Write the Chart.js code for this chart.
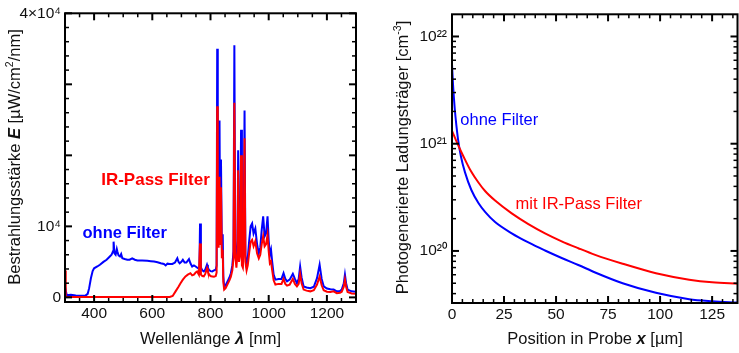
<!DOCTYPE html>
<html>
<head>
<meta charset="utf-8">
<script src="https://cdn.jsdelivr.net/npm/chart.js@4.4.1/dist/chart.umd.min.js"></script>
<style>
  html, body { margin: 0; padding: 0; background: #fff; }
  #wrap { position: relative; width: 739px; height: 353px; }
  #left { position: absolute; left: 0; top: 0; }
  #right { position: absolute; left: 372px; top: 0; }
</style>
</head>
<body>
<div id="wrap">
  <canvas id="left" width="372" height="353"></canvas>
  <canvas id="right" width="367" height="353"></canvas>
</div>
<script>
// Spectrum, left panel (wavelength nm / irradiance uW/cm2/nm)
const waveBlue = [300, 303, 306, 320, 337, 354, 371, 378, 383, 389, 395, 400, 411, 420, 432, 443, 454, 460, 465, 467, 470, 474, 478, 480, 484, 489, 493, 497, 505, 514, 522, 531, 540, 549, 565, 583, 595, 606, 618, 629, 640, 646, 652, 660, 669, 678, 686, 690, 694, 700, 705, 711, 717, 726, 731, 737, 743, 749, 757, 762, 764, 767, 772, 777, 782, 788, 791, 794, 800, 806, 812, 818, 821, 823, 825, 828, 831, 833, 836, 839, 842, 844, 847, 852, 858, 865, 870, 875, 879, 882, 885, 889, 893, 895, 898, 902, 905, 908, 911, 914, 917, 920, 924, 928, 933, 938, 943, 948, 954, 960, 966, 971, 976, 981, 986, 991, 996, 1000, 1004, 1008, 1012, 1017, 1023, 1034, 1044, 1051, 1057, 1063, 1072, 1079, 1083, 1090, 1097, 1103, 1108, 1113, 1120, 1130, 1143, 1155, 1166, 1175, 1182, 1189, 1200, 1212, 1223, 1234, 1245, 1251, 1258, 1262, 1266, 1271, 1285, 1300];
const irrBlue = [600, 900, 300, 380, 280, 240, 280, 500, 1300, 2700, 3700, 4100, 4350, 4600, 5000, 5300, 5750, 6000, 6500, 7850, 6200, 6000, 6800, 6450, 5900, 5750, 6100, 5500, 5400, 5300, 5300, 5500, 5300, 5200, 5200, 5150, 5100, 5050, 4950, 4800, 4700, 4500, 4750, 4700, 4700, 4900, 5500, 5000, 4800, 5000, 5300, 4900, 4900, 5400, 4800, 4350, 4500, 4350, 4100, 4300, 10400, 4200, 3800, 3650, 3900, 4600, 4200, 3900, 3700, 3650, 3800, 3900, 4500, 35000, 9000, 8000, 24900, 9000, 19400, 7000, 8900, 3000, 1500, 1700, 2200, 2800, 3400, 4500, 6500, 35500, 7000, 5000, 8000, 20700, 6000, 7000, 23600, 5500, 5000, 9000, 26300, 6000, 4500, 5500, 8000, 10000, 10400, 9000, 9700, 7500, 6200, 7000, 9500, 11400, 8600, 9000, 11400, 8000, 6000, 6700, 5000, 3200, 2500, 2600, 2600, 3400, 2600, 2250, 2500, 3000, 3300, 2600, 2000, 2600, 4350, 2800, 1550, 1400, 1300, 1500, 2700, 4600, 2600, 1550, 1250, 1150, 1100, 850, 900, 1100, 2000, 3200, 2000, 1100, 850, 800];

const waveRed = [300, 302, 303, 400, 500, 600, 660, 670, 680, 690, 697, 705, 714, 722, 731, 737, 743, 749, 754, 760, 764, 767, 772, 777, 782, 788, 791, 794, 800, 806, 812, 818, 821, 823, 825, 828, 831, 833, 836, 839, 842, 844, 847, 852, 858, 865, 870, 875, 879, 882, 885, 889, 893, 895, 898, 902, 905, 908, 911, 914, 917, 920, 924, 928, 933, 938, 943, 948, 954, 960, 966, 971, 976, 981, 986, 991, 996, 1000, 1004, 1008, 1012, 1017, 1023, 1034, 1044, 1051, 1057, 1063, 1072, 1079, 1083, 1090, 1097, 1103, 1108, 1113, 1120, 1130, 1143, 1155, 1166, 1175, 1182, 1189, 1200, 1212, 1223, 1234, 1245, 1251, 1258, 1262, 1266, 1271, 1285, 1300];
const irrRed = [3800, 400, 50, 50, 50, 50, 50, 200, 850, 1500, 2000, 2500, 2950, 3200, 3400, 3100, 3200, 3500, 3650, 3200, 7600, 3200, 3000, 2950, 3300, 4100, 3600, 3300, 3000, 2950, 2900, 3000, 3500, 26900, 8000, 7000, 17000, 7500, 15500, 5500, 6700, 2200, 1100, 1300, 1800, 2400, 2900, 3800, 5500, 27400, 6000, 4200, 6500, 17900, 5000, 6000, 20000, 4500, 4200, 7000, 22400, 5000, 3800, 4500, 6300, 7800, 8100, 7200, 7900, 6200, 5500, 6000, 7500, 8600, 7200, 7500, 8800, 6500, 4800, 5050, 3800, 2400, 1800, 1900, 1900, 2600, 1900, 1650, 1800, 2300, 2600, 1900, 1550, 1900, 3300, 2000, 1100, 950, 850, 1000, 1800, 2950, 1700, 1000, 800, 750, 850, 600, 650, 800, 1500, 2500, 1500, 750, 550, 500];

// Carrier density, right panel (position um / cm^-3)
const posBlue = [0, 0.5, 1.3, 2.1, 2.9, 4.3, 6.25, 9.3, 12.7, 16, 20.7, 28.7, 36.7, 44.7, 52.7, 60.7, 68.8, 82, 98, 114, 125, 137.5];
const carrBlue = [5.5e21, 3.55e21, 2.14e21, 1.48e21, 1.1e21, 7.6e20, 5.4e20, 3.7e20, 2.8e20, 2.3e20, 1.86e20, 1.46e20, 1.2e20, 1.01e20, 8.6e19, 7.4e19, 6.3e19, 5.0e19, 4.07e19, 3.55e19, 3.4e19, 3.3e19];
const posRed = [0, 2, 4.3, 6.25, 9, 12.7, 16, 20.7, 28.7, 36.7, 44.7, 52.7, 60.7, 68.8, 82, 98, 114, 125, 137.5];
const carrRed = [1.32e21, 1.07e21, 8.5e20, 7.1e20, 5.6e20, 4.35e20, 3.6e20, 2.95e20, 2.24e20, 1.78e20, 1.46e20, 1.23e20, 1.06e20, 9.2e19, 7.6e19, 6.2e19, 5.4e19, 5.1e19, 4.95e19];

// tick labels
const waveTicks = [400, 600, 800, 1000, 1200];
const irrTicks = [0, 10000, 40000];
const irrTickLabels = ['0', '10\u2074', '4\u00d710\u2074'];
const posTicks = [0, 25, 50, 75, 100, 125];
const carrTicks = [1e20, 1e21, 1e22];
const carrTickLabels = ['10\u00b2\u2070', '10\u00b2\u00b9', '10\u00b2\u00b2'];

const BLUE = '#0000ff';
const RED = '#ff0000';
const FAM = '"Liberation Sans", Arial, Helvetica, sans-serif';

Chart.defaults.font.family = FAM;
Chart.defaults.color = '#111';

function pts(xs, ys) {
  return xs.map((x, i) => ({ x, y: ys[i] }));
}

function range(a, b, step) {
  const out = [];
  for (let v = a; v <= b + 1e-9; v += step) out.push(Math.round(v * 1000) / 1000);
  return out;
}

// text made of several font runs, centred on (cx, cy)
function drawRich(ctx, parts, cx, cy, angle) {
  ctx.save();
  ctx.translate(cx, cy);
  ctx.rotate(angle || 0);
  ctx.textBaseline = 'middle';
  ctx.textAlign = 'left';
  let total = 0;
  parts.forEach(p => {
    ctx.font = p.font;
    p.w = ctx.measureText(p.text).width;
    total += p.w;
  });
  let x = -total / 2;
  parts.forEach(p => {
    ctx.font = p.font;
    ctx.fillStyle = '#111';
    ctx.fillText(p.text, x, p.dy || 0);
    x += p.w;
  });
  ctx.restore();
}

// inward ticks on all four sides + frame
const frameTicks = {
  id: 'frameTicks',
  afterDatasetsDraw(chart, args, o) {
    const { ctx, chartArea: a, scales } = chart;
    const xs = scales.x, ys = scales.y;
    ctx.save();
    ctx.strokeStyle = '#000';
    ctx.lineCap = 'butt';
    const seg = (x1, y1, x2, y2) => {
      ctx.beginPath(); ctx.moveTo(x1, y1); ctx.lineTo(x2, y2); ctx.stroke();
    };
    o.xTicks.forEach(t => {
      const px = xs.getPixelForValue(t.v);
      if (px < a.left - 0.5 || px > a.right + 0.5) return;
      ctx.lineWidth = t.major ? 2 : 1.5;
      const len = t.major ? 7 : 4;
      seg(px, a.bottom, px, a.bottom - len);
      seg(px, a.top, px, a.top + len);
    });
    o.yTicks.forEach(t => {
      const py = ys.getPixelForValue(t.v);
      if (py < a.top - 0.5 || py > a.bottom + 0.5) return;
      ctx.lineWidth = t.major ? 2 : 1.5;
      const len = t.major ? 7 : 4;
      seg(a.left, py, a.left + len, py);
      seg(a.right, py, a.right - len, py);
    });
    ctx.lineWidth = 2;
    ctx.strokeRect(a.left, a.top, a.right - a.left, a.bottom - a.top);
    ctx.restore();
  }
};

const labels = {
  id: 'labels',
  afterDraw(chart, args, o) {
    const { ctx, scales } = chart;
    ctx.save();
    o.notes.forEach(n => {
      ctx.font = n.font;
      ctx.fillStyle = n.color;
      ctx.textAlign = n.align;
      ctx.textBaseline = 'middle';
      ctx.fillText(n.text, scales.x.getPixelForValue(n.x), scales.y.getPixelForValue(n.y));
    });
    ctx.restore();
    o.titles.forEach(t => drawRich(ctx, t.parts, t.x, t.y, t.angle));
  }
};

const F = '16.5px ' + FAM;
const FBI = 'italic bold 16.5px ' + FAM;
const FSUP = '10.5px ' + FAM;

// ---------- left panel ----------
const leftXTicks = range(300, 1300, 50).map(v => ({ v, major: v % 200 === 0 }));
const leftYTicks = range(0, 40000, 2000).map(v => ({ v, major: v % 10000 === 0 }));

new Chart(document.getElementById('left'), {
  type: 'scatter',
  data: {
    datasets: [
      { data: pts(waveRed, irrRed), borderColor: RED, borderWidth: 2, showLine: true, pointRadius: 0, tension: 0 },
      { data: pts(waveBlue, irrBlue), borderColor: BLUE, borderWidth: 2, showLine: true, pointRadius: 0, tension: 0 }
    ]
  },
  options: {
    responsive: false,
    animation: false,
    layout: { padding: { top: 13, right: 16, left: 0, bottom: 0 } },
    plugins: {
      legend: { display: false },
      tooltip: { enabled: false },
      frameTicks: { xTicks: leftXTicks, yTicks: leftYTicks },
      labels: {
        notes: [
          { text: 'IR-Pass Filter', x: 611, y: 16500, color: RED, font: 'bold 17px ' + FAM, align: 'center' },
          { text: 'ohne Filter', x: 505, y: 9040, color: BLUE, font: 'bold 16.5px ' + FAM, align: 'center' }
        ],
        titles: [
          { x: 210.5, y: 339, angle: 0, parts: [
            { text: 'Wellenlänge ', font: F },
            { text: 'λ', font: FBI },
            { text: ' [nm]', font: F }
          ] },
          { x: 15, y: 157, angle: -Math.PI / 2, parts: [
            { text: 'Bestrahlungsstärke ', font: F },
            { text: 'E', font: FBI },
            { text: ' [µW/cm', font: F },
            { text: '2', font: FSUP, dy: -5 },
            { text: '/nm]', font: F }
          ] }
        ]
      }
    },
    scales: {
      x: {
        type: 'linear', min: 300, max: 1300,
        grid: { display: false, drawTicks: false },
        border: { display: false },
        afterFit: ax => { ax.height = 51; },
        afterBuildTicks: ax => { ax.ticks = waveTicks.map(v => ({ value: v })); },
        ticks: { padding: 2, font: { size: 15.5 }, maxRotation: 0, autoSkip: false, callback: v => String(v) }
      },
      y: {
        type: 'linear', min: -650, max: 40000,
        grid: { display: false, drawTicks: false },
        border: { display: false },
        afterFit: ax => { ax.width = 65; },
        afterBuildTicks: ax => { ax.ticks = irrTicks.map(v => ({ value: v })); },
        ticks: {
          padding: 4, font: { size: 15.5 }, autoSkip: false,
          callback: v => irrTickLabels[irrTicks.indexOf(v)]
        }
      }
    }
  },
  plugins: [frameTicks, labels]
});

// ---------- right panel ----------
const rightXTicks = range(0, 140, 5).map(v => ({ v, major: v % 25 === 0 }));
const rightYTicks = [];
[19, 20, 21, 22].forEach(e => {
  for (let m = 1; m <= 9; m++) rightYTicks.push({ v: m * Math.pow(10, e), major: m === 1 });
});

new Chart(document.getElementById('right'), {
  type: 'scatter',
  data: {
    datasets: [
      { data: pts(posRed, carrRed), borderColor: RED, borderWidth: 2, showLine: true, pointRadius: 0, cubicInterpolationMode: 'monotone' },
      { data: pts(posBlue, carrBlue), borderColor: BLUE, borderWidth: 2, showLine: true, pointRadius: 0, cubicInterpolationMode: 'monotone' }
    ]
  },
  options: {
    responsive: false,
    animation: false,
    layout: { padding: { top: 12, right: 1.5, left: 0, bottom: 0 } },
    plugins: {
      legend: { display: false },
      tooltip: { enabled: false },
      frameTicks: { xTicks: rightXTicks, yTicks: rightYTicks },
      labels: {
        notes: [
          { text: 'ohne Filter', x: 4.0, y: 1.66e21, color: BLUE, font: '16.5px ' + FAM, align: 'left' },
          { text: 'mit IR-Pass Filter', x: 30.5, y: 2.73e20, color: RED, font: '16.5px ' + FAM, align: 'left' }
        ],
        titles: [
          { x: 223, y: 339, angle: 0, parts: [
            { text: 'Position in Probe ', font: F },
            { text: 'x', font: FBI },
            { text: ' [µm]', font: F }
          ] },
          { x: 31, y: 157.5, angle: -Math.PI / 2, parts: [
            { text: 'Photogenerierte Ladungsträger [cm', font: F },
            { text: '-3', font: FSUP, dy: -5 },
            { text: ']', font: F }
          ] }
        ]
      }
    },
    scales: {
      x: {
        type: 'linear', min: 0, max: 137.2,
        grid: { display: false, drawTicks: false },
        border: { display: false },
        afterFit: ax => { ax.height = 50; },
        afterBuildTicks: ax => { ax.ticks = posTicks.map(v => ({ value: v })); },
        ticks: { padding: 2, font: { size: 15.5 }, maxRotation: 0, autoSkip: false, callback: v => String(v) }
      },
      y: {
        type: 'logarithmic', min: 3.27e19, max: 1.61e22,
        grid: { display: false, drawTicks: false },
        border: { display: false },
        afterFit: ax => { ax.width = 80; },
        afterBuildTicks: ax => { ax.ticks = carrTicks.map(v => ({ value: v })); },
        ticks: {
          padding: 5, font: { size: 15.5 }, autoSkip: false,
          callback: v => carrTickLabels[carrTicks.indexOf(v)]
        }
      }
    }
  },
  plugins: [frameTicks, labels]
});
</script>
</body>
</html>
